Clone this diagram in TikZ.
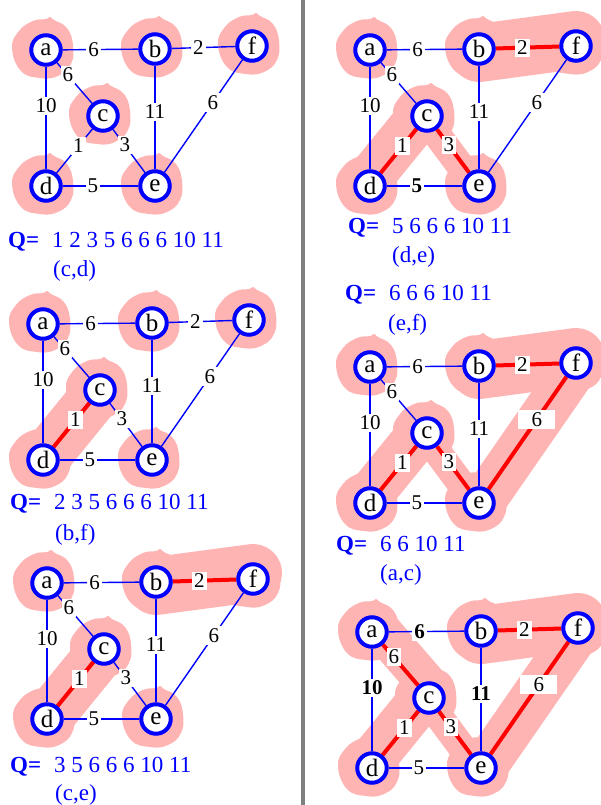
\documentclass[tikz,border=0pt]{standalone}
\usepackage{fontspec}
\setmainfont{Liberation Serif}
\usetikzlibrary{calc}

\pgfdeclarelayer{bg}
\pgfdeclarelayer{blobs}
\pgfdeclarelayer{edges}
\pgfsetlayers{bg,blobs,edges,main}

\definecolor{blobpink}{RGB}{255,180,180}
\definecolor{qblue}{RGB}{0,0,255}
\definecolor{treered}{RGB}{255,0,0}
\definecolor{divgray}{RGB}{128,128,128}

\tikzset{
  vert/.style={circle, draw=qblue, line width=4pt, fill=white, minimum size=29.5pt,
    inner sep=0pt, font=\fontsize{25}{25}\selectfont},
  ed/.style={draw=qblue, line width=1.4pt},
  tree/.style={draw=treered, line width=4pt},
  wt/.style={fill=white, inner xsep=2pt, inner ysep=1.5pt, text=black,
    text height=14pt, text depth=1pt, font=\fontsize{21}{21}\selectfont},
  heavy/.style={font=\fontsize{21}{21}\selectfont\bfseries},
  wide/.style={minimum width=37pt, minimum height=19pt},
  blob/.style={fill=blobpink},
  band/.style={draw=blobpink, line cap=round, line join=round},
  qline/.style={anchor=base west, inner sep=0pt, text=qblue,
    font=\fontsize{23}{23}\selectfont},
  % edge and weight styles, switched on step by step
  e-ab/.style={}, e-bf/.style={}, e-ac/.style={}, e-ad/.style={}, e-cd/.style={},
  e-ce/.style={}, e-be/.style={}, e-de/.style={}, e-ef/.style={},
  w-ab/.style={}, w-ad/.style={}, w-be/.style={}, w-de/.style={},
}

% queue label: bold "Q=" then the remaining weights
\newcommand\qhead{\textbf{Q=}\hspace{13pt}}

% one pink cluster patch round a single vertex
\newcommand\sblob[2]{%
  \begin{scope}[shift={(#1,#2)}]
    \fill[blob] plot[smooth cycle, tension=0.75] coordinates {
      (-34,-2) (-27,-19) (-13,-29) (0,-31) (4,-33) (8,-30) (21,-22)
      (27,-5) (25,14) (12,26) (-6,28) (-25,21)};
  \end{scope}}
\newcommand\blobA{\sblob{0}{0}}
\newcommand\blobB{\sblob{109}{-1}}
\newcommand\blobF{\sblob{206}{-4}}
\newcommand\blobC{\sblob{57}{66}}
\newcommand\blobD{\sblob{0}{136}}
\newcommand\blobE{\sblob{109}{136}}

% pink bands joining merged clusters (#1 = vertex prefix)
\newcommand\bandCD[1]{\draw[band, line width=50pt] (#1c.center) -- (#1d.center);}
\newcommand\bandDC[1]{\draw[band, line width=46pt]
  ($(#1c.center)+(-3.9,-3.2)$) -- ($(#1d.center)+(-3.9,-3.2)$);}
\newcommand\bandCE[1]{\draw[band, line width=28pt]
  ($(#1c.center)+(-2.4,1.8)$) -- ($(#1e.center)+(-2.4,1.8)$);}
\newcommand\bandBF[1]{\draw[band, line width=58pt]
  ($(#1b.center)+(0,4)$) -- ($(#1f.center)+(0,-6)$);}
\newcommand\bandEF[1]{\draw[band, line width=45pt]
  ($(#1f.center)+(2,1.4)$) -- ($(#1e.center)+(2,1.4)$);}
\newcommand\bandAC[1]{\draw[band, line width=40pt]
  ($(#1a.center)+(6,-5)$) -- ($(#1c.center)+(6,-5)$);}

% the weighted graph, vertex names prefixed by #1
\newcommand\drawgraph[1]{%
  \node[vert] (#1a) at (0,0) {a};
  \node[vert] (#1b) at (109,-1) {b};
  \node[vert] (#1f) at (206,-4) {f};
  \node[vert] (#1c) at (57,66) {c};
  \node[vert] (#1d) at (0,136) {d};
  \node[vert] (#1e) at (109,136) {e};
  \begin{pgfonlayer}{edges}
    \draw[ed,e-ab] (#1a) -- node[wt,w-ab,pos=.41] {6} (#1b);
    \draw[ed,e-bf] (#1b) -- node[wt,pos=.42] {2} (#1f);
    \draw[ed,e-ac] (#1a) -- node[wt,pos=.31] {6} (#1c);
    \draw[ed,e-ad] (#1a) -- node[wt,w-ad,pos=.38] {10} (#1d);
    \draw[ed,e-cd] (#1c) -- node[wt,pos=.39] {1} (#1d);
    \draw[ed,e-ce] (#1c) -- node[wt,pos=.37] {3} (#1e);
    \draw[ed,e-be] (#1b) -- node[wt,w-be,pos=.45] {11} (#1e);
    \draw[ed,e-de] (#1d) -- node[wt,w-de,pos=.40] {5} (#1e);
    \draw[ed,e-ef] (#1e) -- node[wt,wide,pos=.62] {6} (#1f);
  \end{pgfonlayer}}

\begin{document}
\begin{tikzpicture}[x=1pt,y=-1pt]
\begin{pgfonlayer}{bg}
  \fill[white] (0,0) rectangle (600,805);
\end{pgfonlayer}
\useasboundingbox (0,0) rectangle (600,805);

% column divider
\draw[divgray, line width=4.5pt] (303,0) -- (303,805);

% ---- left column ----
\begin{scope}[shift={(46,50)}]
  \drawgraph{L1}
  \begin{pgfonlayer}{blobs}
    \blobA \blobB \blobF \blobC \blobD \blobE
  \end{pgfonlayer}
\end{scope}
\node[qline] (q1) at (8,247) {\qhead 1 2 3 5 6 6 6 10 11};
\node[qline] (p1) at (53,276) {(c,d)};

\begin{scope}[shift={(43,324)}, e-cd/.style={tree}]
  \drawgraph{L2}
  \begin{pgfonlayer}{blobs}
    \blobA \blobB \blobF \blobC \blobD \blobE
    \bandCD{L2}
  \end{pgfonlayer}
\end{scope}
\node[qline] (q2) at (10,509) {\qhead 2 3 5 6 6 6 10 11};
\node[qline] (p2) at (55,540) {(b,f)};

\begin{scope}[shift={(47,583)}, e-cd/.style={tree}, e-bf/.style={tree}]
  \drawgraph{L3}
  \begin{pgfonlayer}{blobs}
    \blobA \blobB \blobF \blobC \blobD \blobE
    \bandCD{L3} \bandBF{L3}
  \end{pgfonlayer}
\end{scope}
\node[qline] (q3) at (10,772) {\qhead 3 5 6 6 6 10 11};
\node[qline] (p3) at (55,800) {(c,e)};

% ---- right column ----
\begin{scope}[shift={(370,50)}, e-cd/.style={tree}, e-bf/.style={tree},
    e-ce/.style={tree}, w-de/.style={heavy}]
  \drawgraph{R1}
  \begin{pgfonlayer}{blobs}
    \blobA \blobB \blobF \blobC \blobD \blobE
    \bandDC{R1} \bandCE{R1} \bandBF{R1}
  \end{pgfonlayer}
\end{scope}
\node[qline] (q4) at (348,233) {\qhead 5 6 6 6 10 11};
\node[qline] (p4) at (392,262) {(d,e)};
\node[qline] (q5) at (345,300) {\qhead 6 6 6 10 11};
\node[qline] (p5) at (388,330) {(e,f)};

\begin{scope}[shift={(370,367)}, e-cd/.style={tree}, e-bf/.style={tree},
    e-ce/.style={tree}, e-ef/.style={tree}]
  \drawgraph{R2}
  \begin{pgfonlayer}{blobs}
    \blobA \blobB \blobF \blobC \blobD \blobE
    \bandDC{R2} \bandCE{R2} \bandBF{R2} \bandEF{R2}
  \end{pgfonlayer}
\end{scope}
\node[qline] (q6) at (336,551) {\qhead 6 6 10 11};
\node[qline] (p6) at (380,580) {(a,c)};

\begin{scope}[shift={(372,632)}, e-cd/.style={tree}, e-bf/.style={tree},
    e-ce/.style={tree}, e-ef/.style={tree}, e-ac/.style={tree},
    w-ab/.style={heavy}, w-ad/.style={heavy}, w-be/.style={heavy}]
  \drawgraph{R3}
  \begin{pgfonlayer}{blobs}
    \blobA \blobB \blobF \blobC \blobD \blobE
    \bandDC{R3} \bandCE{R3} \bandBF{R3} \bandEF{R3} \bandAC{R3}
  \end{pgfonlayer}
\end{scope}
\end{tikzpicture}
\end{document}
